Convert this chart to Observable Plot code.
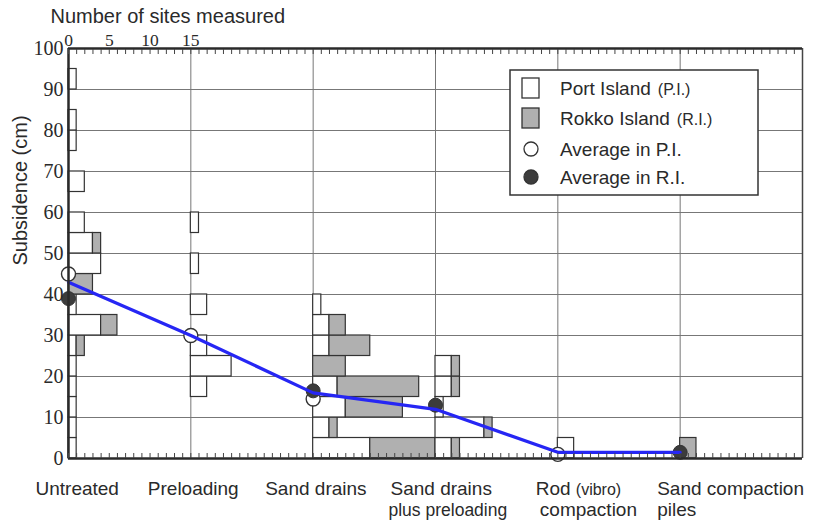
<!DOCTYPE html>
<html><head><meta charset="utf-8">
<script src="https://cdn.jsdelivr.net/npm/d3@7"></script>
<script src="https://cdn.jsdelivr.net/npm/@observablehq/plot@0.6"></script>
<style>body{margin:0;background:#fff;}</style>
</head><body><div id="chart"></div>
<script>
// ---- data ----
const categories = ["Untreated","Preloading","Sand drains","Sand drains plus preloading","Rod (vibro) compaction","Sand compaction piles"];
const groupOffset = [0, 15, 30, 45, 60, 75];           // baseline of each histogram, in "number of sites"
const binStarts = [0,5,10,15,20,25,30,35,40,45,50,55,60,65,70,75,80,85,90,95]; // subsidence bins (cm), width 5
const piCounts = [
  [1,1,1,1,1,1,4,1,0,4,3,2,0,2,0,1,1,0,1,0],
  [0,0,0,2,5,2,0,2,0,1,0,1,0,0,0,0,0,0,0,0],
  [7,2,4,3,0,2,2,1,0,0,0,0,0,0,0,0,0,0,0,0],
  [2,6,1,2,2,0,0,0,0,0,0,0,0,0,0,0,0,0,0,0],
  [2,0,0,0,0,0,0,0,0,0,0,0,0,0,0,0,0,0,0,0],
  [0,0,0,0,0,0,0,0,0,0,0,0,0,0,0,0,0,0,0,0]
];
const riCounts = [
  [0,0,0,0,0,1,2,0,3,0,1,0,0,0,0,0,0,0,0,0],
  [0,0,0,0,0,0,0,0,0,0,0,0,0,0,0,0,0,0,0,0],
  [8,1,7,10,4,5,2,0,0,0,0,0,0,0,0,0,0,0,0,0],
  [1,1,0,1,1,0,0,0,0,0,0,0,0,0,0,0,0,0,0,0],
  [0,0,0,0,0,0,0,0,0,0,0,0,0,0,0,0,0,0,0,0],
  [2,0,0,0,0,0,0,0,0,0,0,0,0,0,0,0,0,0,0,0]
];
const avgPI  = [45, 30, 14.5, null, 1, null];
const avgRI  = [39, null, 16.5, 13, null, 1.5];
const avgAll = [43, 30, 16, 12, 1.5, 1.5];
const topTickLabels = [0, 5, 10, 15];
const yTicks = [0,10,20,30,40,50,60,70,80,90,100];

// ---- derived tables ----
const bars = [];
categories.forEach((c, g) => {
  binStarts.forEach((b, i) => {
    const p = piCounts[g][i], r = riCounts[g][i], o = groupOffset[g];
    if (p > 0) bars.push({type: "PI", x1: o, x2: o + p, y1: b, y2: b + 5});
    if (r > 0) bars.push({type: "RI", x1: o + p, x2: o + p + r, y1: b, y2: b + 5});
  });
});
const ptsPI = groupOffset.map((x, i) => ({x, y: avgPI[i]})).filter(d => d.y != null);
const ptsRI = groupOffset.map((x, i) => ({x, y: avgRI[i]})).filter(d => d.y != null);
const ptsAll = groupOffset.map((x, i) => ({x, y: avgAll[i]}));

const labelParts = [
  {g:0, text:"Untreated", dx:-33, line:1, size:19},
  {g:1, text:"Preloading", dx:-43, line:1, size:19},
  {g:2, text:"Sand drains", dx:-48, line:1, size:19},
  {g:3, text:"Sand drains", dx:-45, line:1, size:19},
  {g:3, text:"plus preloading", dx:-47, line:2, size:17.5},
  {g:4, text:"Rod", dx:-22, line:1, size:19},
  {g:4, text:"(vibro)", dx:18, line:1, size:16},
  {g:4, text:"compaction", dx:-18, line:2, size:19},
  {g:5, text:"Sand compaction", dx:-23, line:1, size:19},
  {g:5, text:"piles", dx:-23, line:2, size:19}
];

const sans = "'Liberation Sans', Arial, Helvetica, sans-serif";
const serif = "'Liberation Serif', 'Times New Roman', serif";
const ink = "#2a2a2a";

const plot = Plot.plot({
  width: 820, height: 521,
  marginLeft: 68, marginRight: 18, marginTop: 48, marginBottom: 63,
  x: {domain: [0, 90], axis: null, label: null},
  y: {domain: [0, 100], axis: null, label: null},
  style: {fontFamily: sans, background: "white", color: ink, overflow: "visible"},
  marks: [
    Plot.ruleY(yTicks.filter(v => v > 0 && v < 100), {stroke: "#777", strokeWidth: 1}),
    Plot.ruleX(groupOffset.slice(1), {stroke: "#777", strokeWidth: 1}),
    Plot.rect(bars, {x1: "x1", x2: "x2", y1: "y1", y2: "y2",
      fill: d => d.type === "PI" ? "white" : "#b0b0b0", stroke: "#333", strokeWidth: 1.2}),
    Plot.dot(ptsPI, {x: "x", y: "y", r: 7, fill: "white", stroke: "#333", strokeWidth: 1.4}),
    Plot.dot(ptsRI, {x: "x", y: "y", r: 7, fill: "#3c3c3c", stroke: "#333", strokeWidth: 1}),
    Plot.line(ptsAll, {x: "x", y: "y", stroke: "#2626f4", strokeWidth: 3.2}),
    // frame
    Plot.ruleX([0], {stroke: ink, strokeWidth: 2.5}),
    Plot.ruleX([90], {stroke: "#444", strokeWidth: 1.5}),
    Plot.ruleY([0], {stroke: ink, strokeWidth: 2.5}),
    Plot.ruleY([100], {stroke: ink, strokeWidth: 2.5}),
    // minor ticks (inward)
    Plot.axisX({anchor: "top", ticks: d3.range(0, 91), tickSize: -5, tickFormat: () => "", stroke: "#444"}),
    Plot.axisX({anchor: "bottom", ticks: d3.range(0, 91), tickSize: -5, tickFormat: () => "", stroke: "#444"}),
    // count labels on top axis
    Plot.axisX({anchor: "top", ticks: topTickLabels, tickSize: 0, tickPadding: 3, fontSize: 17.5,
      fontFamily: serif, label: null, style: "letter-spacing:2px"}),
    // y axis labels
    Plot.axisY({anchor: "left", ticks: yTicks, tickSize: 0, tickPadding: 5, fontSize: 20,
      fontFamily: serif, label: null}),
    // titles
    Plot.text(["Number of sites measured"], {frameAnchor: "top-left", dx: -18, dy: -26,
      textAnchor: "start", lineAnchor: "bottom", fontSize: 20}),
    Plot.text(["Subsidence (cm)"], {frameAnchor: "left", dx: -48, dy: 12, rotate: -90,
      fontSize: 20}),
    // category labels
    ...labelParts.map(p => Plot.text([p], {x: d => groupOffset[d.g], text: "text",
      frameAnchor: "bottom", dx: p.dx, dy: p.line === 1 ? 36 : 57,
      textAnchor: "start", lineAnchor: "bottom", fontSize: p.size}))
  ]
});

// legend
const svg = d3.select(plot);
const lg = svg.append("g").attr("font-family", sans).attr("fill", ink).attr("text-anchor", "start");
lg.append("rect").attr("x", 510).attr("y", 70).attr("width", 248).attr("height", 125)
  .attr("fill", "white").attr("stroke", "#333").attr("stroke-width", 1.5);
const rows = [
  {kind: "PI", main: "Port Island", sub: "(P.I.)", cy: 88},
  {kind: "RI", main: "Rokko Island", sub: "(R.I.)", cy: 118},
  {kind: "aPI", main: "Average in P.I.", sub: "", cy: 149},
  {kind: "aRI", main: "Average in R.I.", sub: "", cy: 177}
];
rows.forEach(r => {
  if (r.kind === "PI" || r.kind === "RI") {
    lg.append("rect").attr("x", 522).attr("y", r.cy - 10).attr("width", 17).attr("height", 20)
      .attr("fill", r.kind === "PI" ? "white" : "#b0b0b0").attr("stroke", "#333").attr("stroke-width", 1.3);
  } else {
    lg.append("circle").attr("cx", 531).attr("cy", r.cy).attr("r", 7)
      .attr("fill", r.kind === "aPI" ? "white" : "#3c3c3c").attr("stroke", "#333").attr("stroke-width", 1.3);
  }
  const t = lg.append("text").attr("x", 560).attr("y", r.cy + 7).attr("font-size", 19)
    .attr("text-anchor", "start");
  t.append("tspan").text(r.main);
  if (r.sub) t.append("tspan").attr("dx", 7).attr("font-size", 16).text(r.sub);
});

document.getElementById("chart").append(plot);
</script>
</body></html>
